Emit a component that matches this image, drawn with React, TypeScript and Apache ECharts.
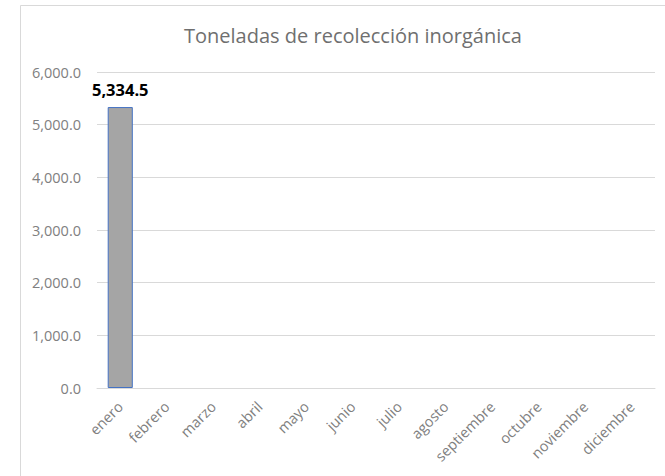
import React, { useEffect, useRef } from "react";
import * as echarts from "echarts";

const TITLE = "Toneladas de recolección inorgánica";
const MONTHS = ["enero", "febrero", "marzo", "abril", "mayo", "junio", "julio", "agosto", "septiembre", "octubre", "noviembre", "diciembre"];
const VALUES: (number | null)[] = [5334.5, null, null, null, null, null, null, null, null, null, null, null];
const Y_MIN = 0;
const Y_MAX = 6000;
const Y_STEP = 1000;

const fmt = (v: number) =>
  v.toLocaleString("en-US", { minimumFractionDigits: 1, maximumFractionDigits: 1 });

export default function App() {
  const ref = useRef<HTMLDivElement>(null);
  useEffect(() => {
    if (!ref.current) return;
    const chart = echarts.init(ref.current, null, { renderer: "svg" });
    const font = "'Open Sans', Lato, sans-serif";
    chart.setOption({
      animation: false,
      backgroundColor: "#ffffff",
      textStyle: { fontFamily: font },
      title: {
        text: TITLE,
        left: 348,
        textAlign: "center",
        top: 20,
        textStyle: { fontFamily: font, fontSize: 20, fontWeight: "normal", color: "#6f6f6f" },
      },
      graphic: [
        {
          type: "rect",
          shape: { x: 20.5, y: 5.5, width: 700, height: 500 },
          style: { fill: "none", stroke: "#d9d9d9", lineWidth: 1 },
          silent: true,
        },
      ],
      grid: { left: 97, right: 10, top: 72, bottom: 88, containLabel: false },
      xAxis: {
        type: "category",
        data: MONTHS,
        axisLine: { lineStyle: { color: "#d9d9d9" } },
        axisTick: { show: false },
        axisLabel: { rotate: 45, margin: 16, fontSize: 14.5, color: "#808080", fontFamily: font, interval: 0 },
      },
      yAxis: {
        type: "value",
        min: Y_MIN,
        max: Y_MAX,
        interval: Y_STEP,
        axisLine: { show: false },
        axisTick: { show: false },
        splitLine: { lineStyle: { color: "#d9d9d9" } },
        axisLabel: { margin: 16, fontSize: 14.5, color: "#808080", fontFamily: font, formatter: (v: number) => fmt(v) },
      },
      series: [
        {
          type: "bar",
          data: VALUES,
          barWidth: "54%",
          itemStyle: { color: "#a5a5a5", borderColor: "#4472c4", borderWidth: 1 },
          label: {
            show: true,
            position: "top",
            distance: 9,
            fontSize: 16.5,
            fontWeight: "bold",
            color: "#000000",
            fontFamily: font,
            formatter: (p: any) => fmt(p.value),
          },
        },
      ],
    });
    return () => chart.dispose();
  }, []);
  return <div ref={ref} style={{ position: "fixed", left: 0, top: 0, width: 665, height: 476 }} />;
}
